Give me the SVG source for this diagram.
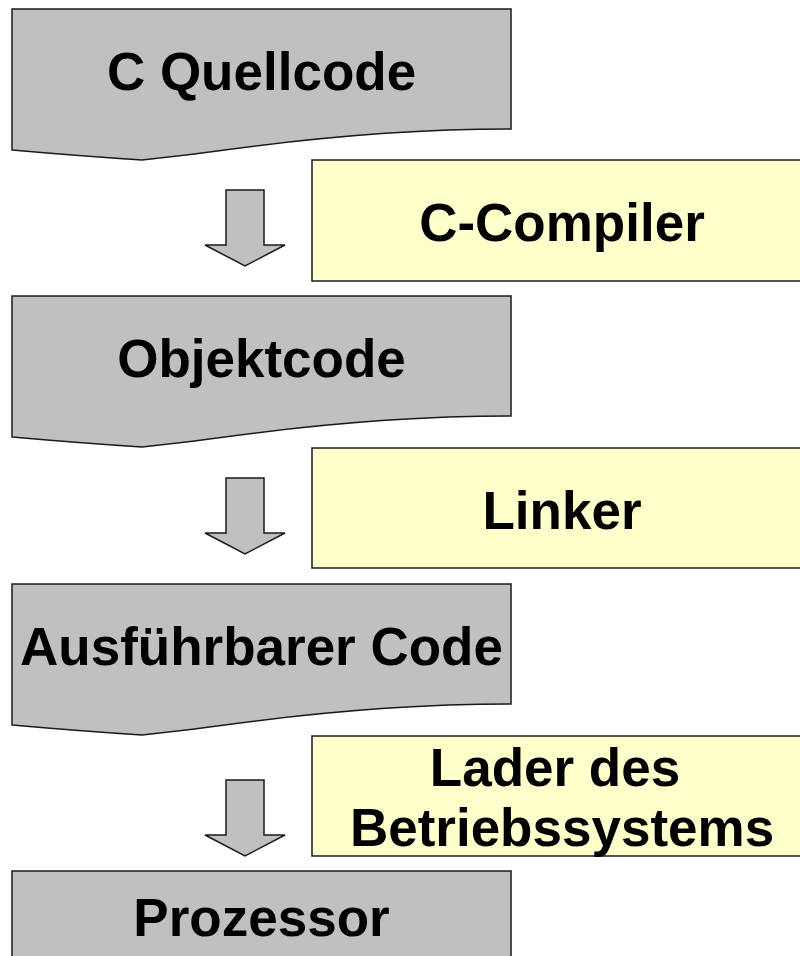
<svg xmlns="http://www.w3.org/2000/svg" width="800" height="956" viewBox="0 0 800 956">
<defs>
<style>
.doc{fill:#c0c0c0;stroke:#1a1a1a;stroke-width:1.5}
.box{fill:#ffffcc;stroke:#1a1a1a;stroke-width:1.5}
.arr{fill:#c0c0c0;stroke:#1a1a1a;stroke-width:1.5;stroke-linejoin:miter}
text{font-family:"Liberation Sans",Arial,sans-serif;font-weight:bold;font-size:53px;fill:#000;text-anchor:middle}
</style>
<path id="docshape" d="M12,0 H511 V120 C430,120 330,127 240,139 Q190,146 142,151 Q80,147 12,141 Z"/>
<polygon id="arrowshape" points="226,0 264,0 264,55 285,55 245,76 205,55 226,55"/>
</defs>
<g id="connectors">
<use href="#arrowshape" class="arr" transform="translate(0,190)"/>
<use href="#arrowshape" class="arr" transform="translate(0,478)"/>
<use href="#arrowshape" class="arr" transform="translate(0,780)"/>
</g>
<g id="n-quellcode">
<use href="#docshape" class="doc" transform="translate(0,9)"/>
<text x="261.5" y="90">C Quellcode</text>
</g>
<g id="n-compiler">
<rect class="box" x="312" y="160" width="500" height="121"/>
<text x="562" y="241">C-Compiler</text>
</g>
<g id="n-objektcode">
<use href="#docshape" class="doc" transform="translate(0,296)"/>
<text x="261.5" y="377">Objektcode</text>
</g>
<g id="n-linker">
<rect class="box" x="312" y="448" width="500" height="120"/>
<text x="562" y="529">Linker</text>
</g>
<g id="n-ausfuehrbar">
<use href="#docshape" class="doc" transform="translate(0,584)"/>
<text x="261.5" y="665">Ausführbarer Code</text>
</g>
<g id="n-lader">
<rect class="box" x="312" y="736" width="500" height="120"/>
<text x="555" y="786">Lader des</text>
<text x="562" y="846">Betriebssystems</text>
</g>
<g id="n-prozessor">
<rect class="doc" x="12" y="871" width="499" height="120"/>
<text x="261.5" y="936">Prozessor</text>
</g>
</svg>
